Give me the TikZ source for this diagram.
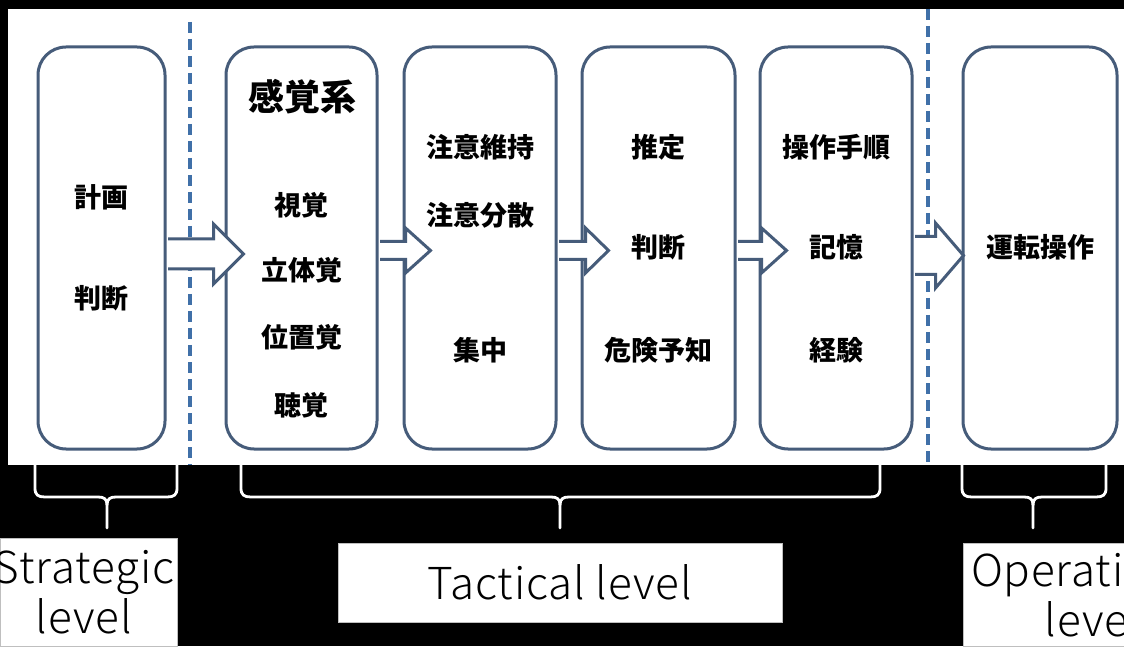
\documentclass[tikz,border=0pt]{standalone}
\usepackage{fontspec}
\newfontfamily\jpfont{Noto Sans CJK JP}
\IfFontExistsTF{Noto Sans CJK JP Light}{\newfontfamily\enfont{Noto Sans CJK JP Light}[LetterSpace=2]}{\newfontfamily\enfont{Noto Sans CJK JP}}
\usetikzlibrary{calc}
\definecolor{boxline}{RGB}{70,92,122}
\definecolor{dashblue}{RGB}{64,112,168}
\tikzset{
  stagebox/.style={draw=boxline, line width=3pt, rounded corners=28pt, fill=white, minimum height=402pt, inner sep=0pt},
  jtext/.style={font=\jpfont\bfseries\fontsize{27pt}{32pt}\selectfont, inner sep=0pt},
  jhead/.style={font=\jpfont\bfseries\fontsize{36pt}{40pt}\selectfont, inner sep=0pt},
  blockarr/.style={draw=boxline, line width=3pt, fill=white, line join=miter},
  levelline/.style={draw=dashblue, line width=3.6pt, dash pattern=on 11pt off 6pt},
  bracestyle/.style={draw=white, line width=2.8pt, line cap=round},
  levelbox/.style={fill=white, draw=gray!50, line width=0.6pt, inner sep=0pt, align=center, font=\enfont\fontsize{44pt}{50pt}\selectfont},
}
\newcommand\blockarrow[7]{%
  \draw[blockarr] let \p1=(#1.east), \p2=(#2.west) in
    (\x1+1.5,#3+#4) -- (\x2+#6,#3+#4) -- (\x2+#6,#3+#5) -- (\x2+#7,#3)
    -- (\x2+#6,#3-#5) -- (\x2+#6,#3-#4) -- (\x1+1.5,#3-#4);}
\newcommand\levelbrace[3]{%
  \draw[bracestyle] (#1,181) -- (#1,158) .. controls (#1,151) and (#1+3,149) .. (#1+10,149)
    -- (#3-9,149) .. controls (#3-3,149) and (#3,147) .. (#3,141) -- (#3,118);
  \draw[bracestyle] (#2,181) -- (#2,158) .. controls (#2,151) and (#2-3,149) .. (#2-10,149)
    -- (#3+9,149) .. controls (#3+3,149) and (#3,147) .. (#3,141);}
\begin{document}
\begin{tikzpicture}[x=1pt,y=1pt]
\useasboundingbox (0,0) rectangle (1124,646);
\clip (0,0) rectangle (1124,646);
\fill[black] (0,0) rectangle (1124,646);
\fill[white] (8,181) rectangle (1124,637);
% level separators
\coordinate (d1t) at (190,624); \coordinate (d1b) at (190,181);
\coordinate (d2t) at (928,637); \coordinate (d2b) at (928,181);
\draw[levelline] (d1t) -- (d1b);
\draw[levelline] (d2t) -- (d2b);
% stage boxes
\node[stagebox, minimum width=127pt] (b1) at (101.5,398) {};
\node[stagebox, minimum width=151pt] (b2) at (301.5,398) {};
\node[stagebox, minimum width=152pt] (b3) at (480,398) {};
\node[stagebox, minimum width=153pt] (b4) at (658.5,398) {};
\node[stagebox, minimum width=152pt] (b5) at (836,398) {};
\node[stagebox, minimum width=154pt] (b6) at (1040,398) {};
% block arrows
\blockarrow{b1}{b2}{392}{15}{30}{-11}{19}
\blockarrow{b2}{b3}{395.5}{9}{22.5}{3}{28}
\blockarrow{b3}{b4}{395.5}{9}{22.5}{5}{28}
\blockarrow{b4}{b5}{395.5}{9}{22.5}{3}{28}
\blockarrow{b5}{b6}{390.5}{19}{32.5}{-26}{2}
% texts
\node[jtext] (t11) at (101.5,449) {計画};
\node[jtext] (t12) at (101.5,348) {判断};
\node[jhead] (t20) at (302,549) {感覚系};
\node[jtext] (t21) at (301.5,441) {視覚};
\node[jtext] (t22) at (301.5,376) {立体覚};
\node[jtext] (t23) at (301.5,309) {位置覚};
\node[jtext] (t24) at (301.5,241) {聴覚};
\node[jtext] (t31) at (480,499) {注意維持};
\node[jtext] (t32) at (480,431) {注意分散};
\node[jtext] (t33) at (480,296) {集中};
\node[jtext] (t41) at (658.5,499) {推定};
\node[jtext] (t42) at (658.5,399) {判断};
\node[jtext] (t43) at (658.5,296) {危険予知};
\node[jtext] (t51) at (836,499) {操作手順};
\node[jtext] (t52) at (836,399) {記憶};
\node[jtext] (t53) at (836,296) {経験};
\node[jtext] (t61) at (1040,399) {運転操作};
% braces
\levelbrace{35}{177}{107}
\levelbrace{241}{880}{560}
\levelbrace{962}{1106}{1033}
% level labels
\node[levelbox, minimum width=177pt, minimum height=108pt] (ls) at (88.5,54) {};
\node[font=\enfont\fontsize{44pt}{50pt}\selectfont, align=center, inner sep=0pt] (lst) at (84,54) {Strategic\\level};
\node[levelbox, minimum width=444pt, minimum height=79pt] (lt) at (560,63.5) {Tactical level};
\node[levelbox, minimum width=260pt, minimum height=103pt] (lo) at (1093,51.5) {Operational\\level};
\end{tikzpicture}
\end{document}
